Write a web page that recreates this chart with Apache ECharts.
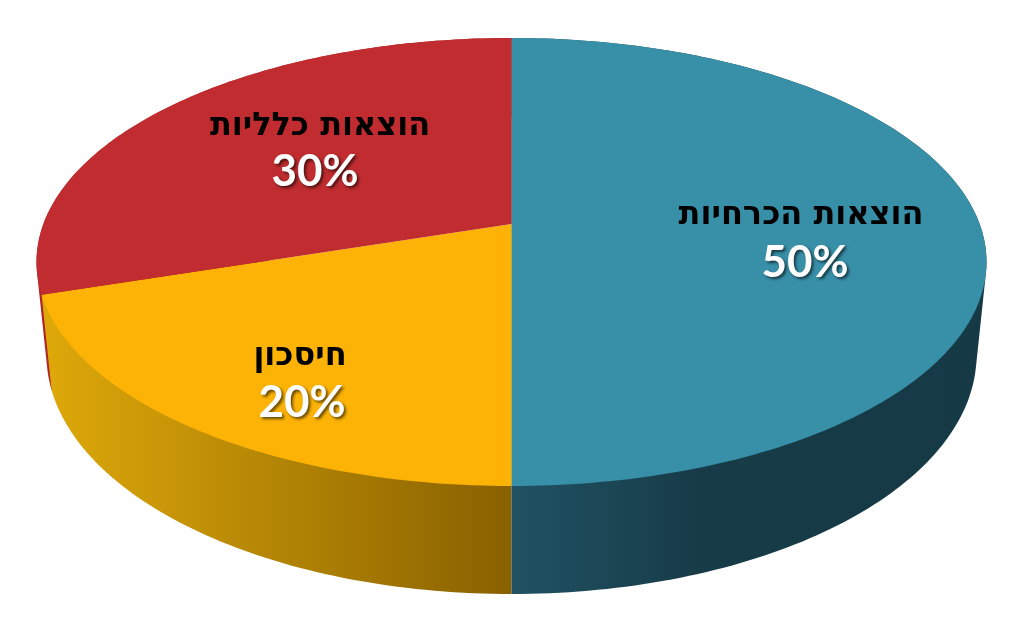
<!DOCTYPE html>
<html><head><meta charset="utf-8">
<style>html,body{margin:0;padding:0;background:#fff}#c{width:1024px;height:628px}</style>
<script src="https://cdn.jsdelivr.net/npm/echarts@6/dist/echarts.min.js"></script>
</head><body><div id="c"></div>
<script>
const categories = ['הוצאות הכרחיות', 'חיסכון', 'הוצאות כלליות'];
const values = [50, 20, 30];
const percentLabels = ['50%', '20%', '30%'];

const topColors = ['#388fa8', '#fdb306', '#c02c2f'];
const sideStops = [
  [[0, '#205263'], [0.4, '#173b47'], [1, '#163a45']],
  [[0, '#dfa90a'], [1, '#886100']],
  [[0, '#ad2529'], [1, '#ad2529']]
];
const labelLayout = [[801, 216, 263], [300, 357, 403], [320, 127, 172]];
const percentShift = [4, 2, -5];

const topEllipse = {cx: 511.5, cy: 262, rx: 475, ry: 224};
const baseEllipse = {cx: 511.5, cy: 355, rx: 465, ry: 239};
const tilt = 0.17;

const total = values.reduce((a, b) => a + b, 0);
const startAt = values.map((_, i) => values.slice(0, i).reduce((a, b) => a + b, 0) / total);

function project(e, t, r) {
  const u = r * Math.sin(t), v = r * Math.cos(t), d = 1 + tilt * v;
  return [e.cx + e.rx * u * Math.sqrt(1 - tilt * tilt) / d, e.cy - e.ry * (v + tilt) / d];
}
function arc(e, from, to) {
  const n = Math.max(2, Math.ceil((to - from) * 360)), pts = [];
  for (let i = 0; i <= n; i++) pts.push(project(e, (from + (to - from) * i / n) * 2 * Math.PI, 1));
  return pts;
}
function hull(points) {
  const p = points.slice().sort((a, b) => a[0] - b[0] || a[1] - b[1]);
  const cross = (o, a, b) => (a[0] - o[0]) * (b[1] - o[1]) - (a[1] - o[1]) * (b[0] - o[0]);
  const lo = [], up = [];
  for (const q of p) { while (lo.length > 1 && cross(lo[lo.length - 2], lo[lo.length - 1], q) <= 0) lo.pop(); lo.push(q); }
  for (const q of p.reverse()) { while (up.length > 1 && cross(up[up.length - 2], up[up.length - 1], q) <= 0) up.pop(); up.push(q); }
  return lo.slice(0, -1).concat(up.slice(0, -1));
}
const seriesData = categories.map((name, i) => ({name, value: values[i]}));
const sideOrder = [3, 2, 1];

function renderSide(params, api) {
  const i = params.dataIndex, from = startAt[i], to = from + api.value(0) / total;
  return {
    type: 'polygon', z2: sideOrder[i],
    shape: {points: hull(arc(topEllipse, from, to).concat(arc(baseEllipse, from, to)))},
    style: {fill: {type: 'linear', x: 0, y: 0, x2: 1, y2: 0,
      colorStops: sideStops[i].map(s => ({offset: s[0], color: s[1]}))}}
  };
}
function renderTop(params, api) {
  const i = params.dataIndex, from = startAt[i], to = from + api.value(0) / total;
  return {
    type: 'polygon',
    shape: {points: [project(topEllipse, 0, 0)].concat(arc(topEllipse, from, to))},
    style: {fill: topColors[i]}
  };
}
function renderText(params) {
  const i = params.dataIndex, l = labelLayout[i];
  return {type: 'group', children: [
    {type: 'text', style: {x: l[0], y: l[1], text: categories[i], align: 'center', verticalAlign: 'middle',
      font: 'bold 32px "DejaVu Sans"', fill: '#000'}},
    {type: 'text', style: {x: l[0] + percentShift[i], y: l[2], text: percentLabels[i], align: 'center', verticalAlign: 'middle',
      font: 'bold 44px Lato', fill: '#fff', textShadowColor: 'rgba(0,0,0,0.6)', textShadowBlur: 3,
      textShadowOffsetX: 2, textShadowOffsetY: 2}}
  ]};
}
const chart = echarts.init(document.getElementById('c'), null, {renderer: 'canvas'});
chart.setOption({
  animation: false,
  backgroundColor: '#fff',
  series: [
    {type: 'custom', coordinateSystem: 'none', silent: true, z: 1, data: seriesData, renderItem: renderSide},
    {type: 'custom', coordinateSystem: 'none', silent: true, z: 2, data: seriesData, renderItem: renderTop},
    {type: 'custom', coordinateSystem: 'none', silent: true, z: 3, data: seriesData, renderItem: renderText}
  ]
});
</script></body></html>
